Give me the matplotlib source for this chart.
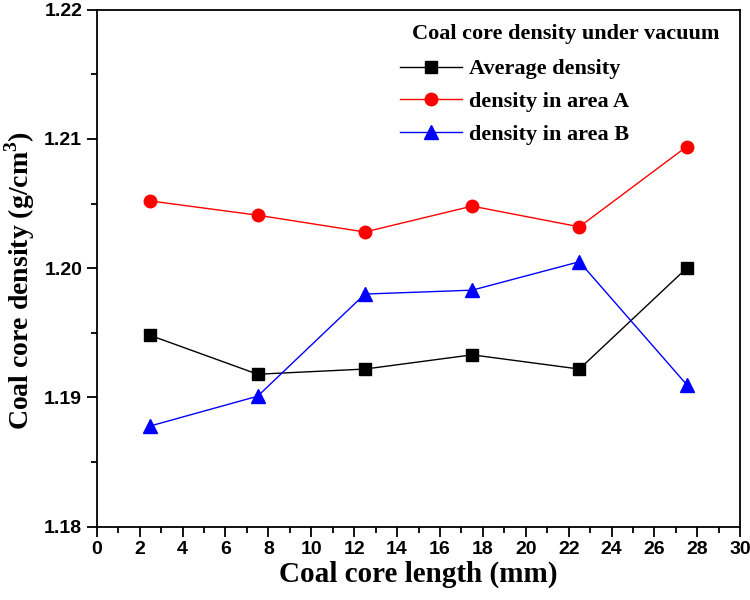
import numpy as np
import matplotlib.pyplot as plt
from matplotlib.ticker import MultipleLocator

plt.rcParams['mathtext.fontset'] = 'custom'
plt.rcParams['mathtext.rm'] = 'Liberation Serif:bold'
plt.rcParams['mathtext.bf'] = 'Liberation Serif:bold'

length = [2.5, 7.5, 12.5, 17.5, 22.5, 27.5]
avg_density = [1.1948, 1.1918, 1.1922, 1.1933, 1.1922, 1.2000]
density_a = [1.2052, 1.2041, 1.2028, 1.2048, 1.2032, 1.2094]
density_b = [1.1878, 1.1901, 1.1980, 1.1983, 1.2005, 1.1910]

fig = plt.figure(figsize=(7.5, 6), dpi=100)
ax = fig.add_axes([0.129, 0.122, 0.858, 0.862])

ax.plot(length, avg_density, color='black', marker='s', markersize=8, lw=1.0,
        label='Average density')
ax.plot(length, density_a, color='red', marker='o', markersize=9, lw=1.0,
        label='density in area A')
ax.plot(length, density_b, color='blue', marker='^', markersize=10, lw=1.0,
        label='density in area B')

ax.set_xlim(0, 30)
ax.set_ylim(1.18, 1.22)
ax.xaxis.set_major_locator(MultipleLocator(2))
ax.xaxis.set_minor_locator(MultipleLocator(1))
ax.yaxis.set_major_locator(MultipleLocator(0.01))
ax.yaxis.set_minor_locator(MultipleLocator(0.005))
ax.yaxis.set_major_formatter(lambda v, p: f'{v:.2f}')
ax.tick_params(which='both', direction='out', top=False, right=False, width=1.3)
ax.tick_params(which='major', length=7)
ax.tick_params(which='minor', length=4)
for s in ax.spines.values():
    s.set_linewidth(1.3)

tick_font = {'family': 'Liberation Sans', 'weight': 'bold', 'size': 14}
for lab in ax.get_xticklabels() + ax.get_yticklabels():
    lab.set_fontproperties(tick_font)

ax.set_xlabel('Coal core length (mm)',
              fontdict={'family': 'Liberation Serif', 'weight': 'bold', 'size': 21},
              labelpad=2)
ax.set_ylabel('Coal core density (g/cm$^{3}$)',
              fontdict={'family': 'Liberation Serif', 'weight': 'bold', 'size': 20})
ax.yaxis.set_label_coords(-0.093, 0.476)

ax.legend(loc='upper left', frameon=False, bbox_to_anchor=(0.471, 0.905),
          prop={'family': 'Liberation Serif', 'weight': 'bold', 'size': 16},
          handlelength=2.8, handletextpad=0.3, labelspacing=0.55,
          borderpad=0, borderaxespad=0)
ax.text(0.729, 0.952, 'Coal core density under vacuum', transform=ax.transAxes,
        ha='center', va='center', family='Liberation Serif', weight='bold', size=16)

fig.savefig('out.png', dpi=100)
